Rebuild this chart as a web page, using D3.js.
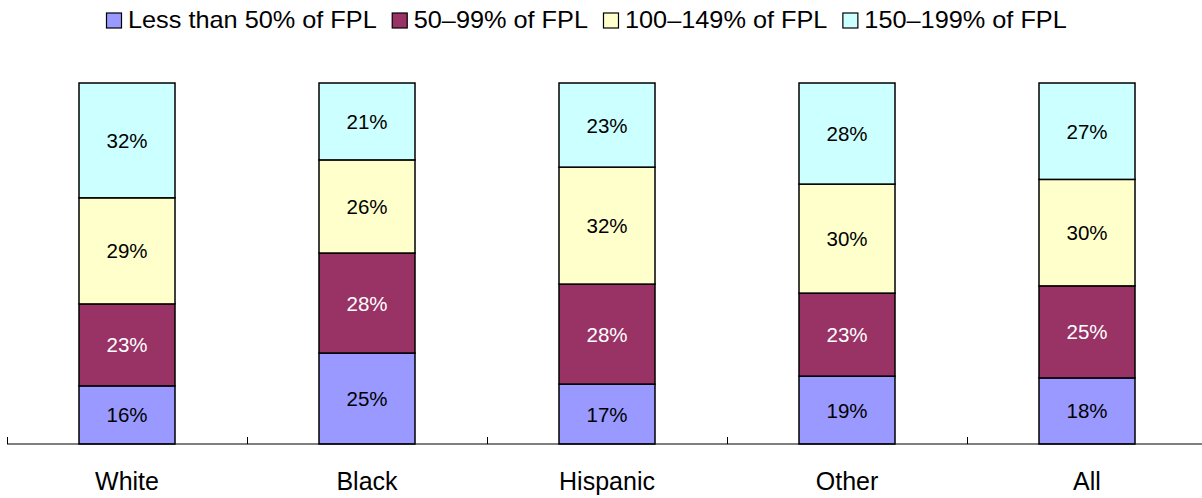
<!DOCTYPE html>
<html>
<head>
<meta charset="utf-8">
<script src="https://cdn.jsdelivr.net/npm/d3@7"></script>
<style>
  body { margin: 0; background: #fff; }
  text { font-family: "Liberation Sans", Arial, sans-serif; fill: #000; }
</style>
</head>
<body>
<div id="chart"></div>
<script>
// categories and series (percent)
var groups = ["White", "Black", "Hispanic", "Other", "All"];
var seriesNames = ["Less than 50% of FPL", "50\u201399% of FPL", "100\u2013149% of FPL", "150\u2013199% of FPL"];
var lt50   = [16.1, 25.2, 16.6, 18.8, 18.3];
var p50_99 = [22.7, 27.7, 27.7, 23.0, 25.5];
var p100_149 = [29.4, 25.8, 32.4, 30.2, 29.5];
var p150_199 = [31.8, 21.3, 23.3, 28.0, 26.7];
var colors = ["#9999ff", "#993366", "#ffffcc", "#ccffff"];
var labelColors = ["#000", "#fff", "#000", "#000"];

var W = 1202, H = 498;
var rows = groups.map(function(g, i) {
    return { group: g, s0: lt50[i], s1: p50_99[i], s2: p100_149[i], s3: p150_199[i] };
});
var keys = ["s0", "s1", "s2", "s3"];
var stacked = d3.stack().keys(keys)(rows);

var svg = d3.select("#chart").append("svg")
    .attr("width", W).attr("height", H);

var x = d3.scaleBand()
    .domain(groups)
    .range([7, 1207])
    .paddingInner(0.6)
    .paddingOuter(0.3);
var y = d3.scaleLinear().domain([0, 100]).range([444, 83]);

// bars
var layer = svg.append("g").selectAll("g")
    .data(stacked)
    .enter().append("g")
    .attr("fill", function(d, i) { return colors[i]; });

layer.selectAll("rect")
    .data(function(d) { return d; })
    .enter().append("rect")
    .attr("x", function(d) { return x(d.data.group); })
    .attr("y", function(d) { return y(d[1]); })
    .attr("width", x.bandwidth())
    .attr("height", function(d) { return y(d[0]) - y(d[1]); })
    .attr("stroke", "#000")
    .attr("stroke-width", 1.5);

// segment labels
stacked.forEach(function(s, i) {
    svg.append("g").selectAll("text")
        .data(s)
        .enter().append("text")
        .attr("x", function(d) { return x(d.data.group) + x.bandwidth() / 2; })
        .attr("y", function(d) { return (y(d[0]) + y(d[1])) / 2 + 7.5; })
        .attr("text-anchor", "middle")
        .style("font-size", "20.5px")
        .style("fill", labelColors[i])
        .text(function(d) { return Math.round(d[1] - d[0]) + "%"; });
});

// x axis line and ticks between categories
svg.append("line")
    .attr("x1", 7).attr("x2", W)
    .attr("y1", 444).attr("y2", 444)
    .attr("stroke", "#000").attr("stroke-width", 1);

var step = x.step();
svg.append("g").selectAll("line")
    .data(groups)
    .enter().append("line")
    .attr("x1", function(d) { return Math.round(x(d) + x.bandwidth() / 2 - step / 2) + 0.5; })
    .attr("x2", function(d) { return Math.round(x(d) + x.bandwidth() / 2 - step / 2) + 0.5; })
    .attr("y1", 437).attr("y2", 444)
    .attr("stroke", "#000").attr("stroke-width", 1);

// category labels
svg.append("g").selectAll("text")
    .data(groups)
    .enter().append("text")
    .attr("x", function(d) { return x(d) + x.bandwidth() / 2; })
    .attr("y", 490)
    .attr("text-anchor", "middle")
    .style("font-size", "25px")
    .text(function(d) { return d; });

// legend
var legend = svg.append("g");
var lx = 106;
seriesNames.forEach(function(name, i) {
    var item = legend.append("g").attr("transform", "translate(" + lx + ",0)");
    item.append("rect")
        .attr("x", 0.5).attr("y", 13)
        .attr("width", 15).attr("height", 15)
        .attr("fill", colors[i])
        .attr("stroke", "#000").attr("stroke-width", 1.2);
    var t = item.append("text")
        .attr("transform", "translate(22,28) scale(1.1,1)")
        .style("font-size", "23px")
        .text(name);
    lx += 22 + t.node().getComputedTextLength() * 1.1 + 15;
});
</script>
</body>
</html>
